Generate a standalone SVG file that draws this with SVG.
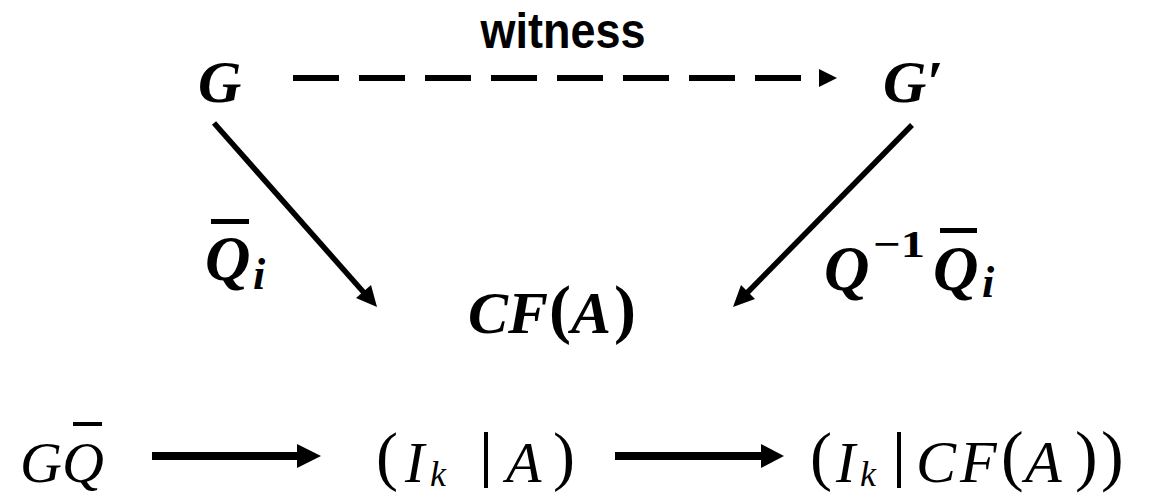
<svg xmlns="http://www.w3.org/2000/svg" width="1153" height="493" viewBox="0 0 1153 493">
<defs>
<style>
.m{font-family:"Liberation Serif","DejaVu Serif",serif;font-style:italic;fill:#000}
.b{font-weight:bold}
.p{font-family:"Liberation Serif","DejaVu Serif",serif;font-style:normal;fill:#000}
.w{font-family:"Liberation Sans",Arial,sans-serif;font-weight:bold;fill:#000}
.ln{stroke:#000;fill:none}
</style>
</defs>
<g id="connectors">
<line class="ln" x1="293" y1="78" x2="805" y2="78" stroke-width="6" stroke-dasharray="46 20"/>
<path d="M819,69 L837,78 L819,87 z" fill="#000"/>
<line class="ln" x1="214" y1="123" x2="366" y2="295" stroke-width="5.5"/>
<path d="M377,307 L356,298 L371,285 z" fill="#000"/>
<line class="ln" x1="912" y1="125" x2="745" y2="295" stroke-width="5.5"/>
<path d="M733,307 L741,285 L755,299 z" fill="#000"/>
<line class="ln" x1="152" y1="456" x2="300" y2="456" stroke-width="8"/>
<path d="M297,444 L321,456 L297,468 z" fill="#000"/>
<line class="ln" x1="615" y1="456" x2="764" y2="456" stroke-width="8"/>
<path d="M761,444 L784,456 L761,468 z" fill="#000"/>
</g>
<g id="label-witness"><text class="w" x="563" y="48" font-size="50" text-anchor="middle" textLength="165" lengthAdjust="spacingAndGlyphs">witness</text></g>
<g id="node-G"><text class="m b" x="198" y="102" font-size="60">G</text></g>
<g id="node-Gp"><text class="m b" x="883" y="102" font-size="60">G′</text></g>
<g id="label-Qi">
<text class="m b" x="205" y="280" font-size="63">Q</text>
<rect x="211" y="219" width="38" height="5" fill="#000"/>
<text class="m b" x="253" y="289" font-size="44">i</text>
</g>
<g id="label-QinvQi">
<text class="m b" x="824" y="290" font-size="63">Q</text>
<text class="p b" x="873" y="257" font-size="38" textLength="52" lengthAdjust="spacingAndGlyphs">−1</text>
<text class="m b" x="933" y="290" font-size="63">Q</text>
<rect x="940" y="228" width="37" height="5" fill="#000"/>
<text class="m b" x="982" y="297" font-size="44">i</text>
</g>
<g id="node-CFA">
<text class="m b" x="468" y="333" font-size="60">C</text>
<text class="m b" x="508" y="333" font-size="60">F</text>
<text class="p b" x="549" y="331" font-size="66">(</text>
<text class="m b" x="571" y="333" font-size="60">A</text>
<text class="p b" x="614" y="331" font-size="66">)</text>
</g>
<g id="node-GQ">
<text class="m" x="20" y="482" font-size="58">G</text>
<text class="m" x="62" y="482" font-size="58">Q</text>
<rect x="73" y="422" width="29" height="4" fill="#000"/>
</g>
<g id="node-IkA">
<text class="p" x="376" y="478" font-size="66">(</text>
<text class="m" x="405" y="482" font-size="58">I</text>
<text class="m" x="430" y="486" font-size="36">k</text>
<rect x="484" y="432" width="4" height="56" fill="#000"/>
<text class="m" x="506" y="482" font-size="58">A</text>
<text class="p" x="553" y="478" font-size="66">)</text>
</g>
<g id="node-IkCFA">
<text class="p" x="810" y="478" font-size="66">(</text>
<text class="m" x="836" y="482" font-size="58">I</text>
<text class="m" x="860" y="486" font-size="36">k</text>
<rect x="897" y="432" width="4" height="56" fill="#000"/>
<text class="m" x="916" y="482" font-size="60">C</text>
<text class="m" x="960" y="482" font-size="60">F</text>
<text class="p" x="1001" y="478" font-size="68">(</text>
<text class="m" x="1025" y="482" font-size="60">A</text>
<text class="p" x="1075" y="478" font-size="68">)</text>
<text class="p" x="1101" y="478" font-size="68">)</text>
</g>
</svg>
